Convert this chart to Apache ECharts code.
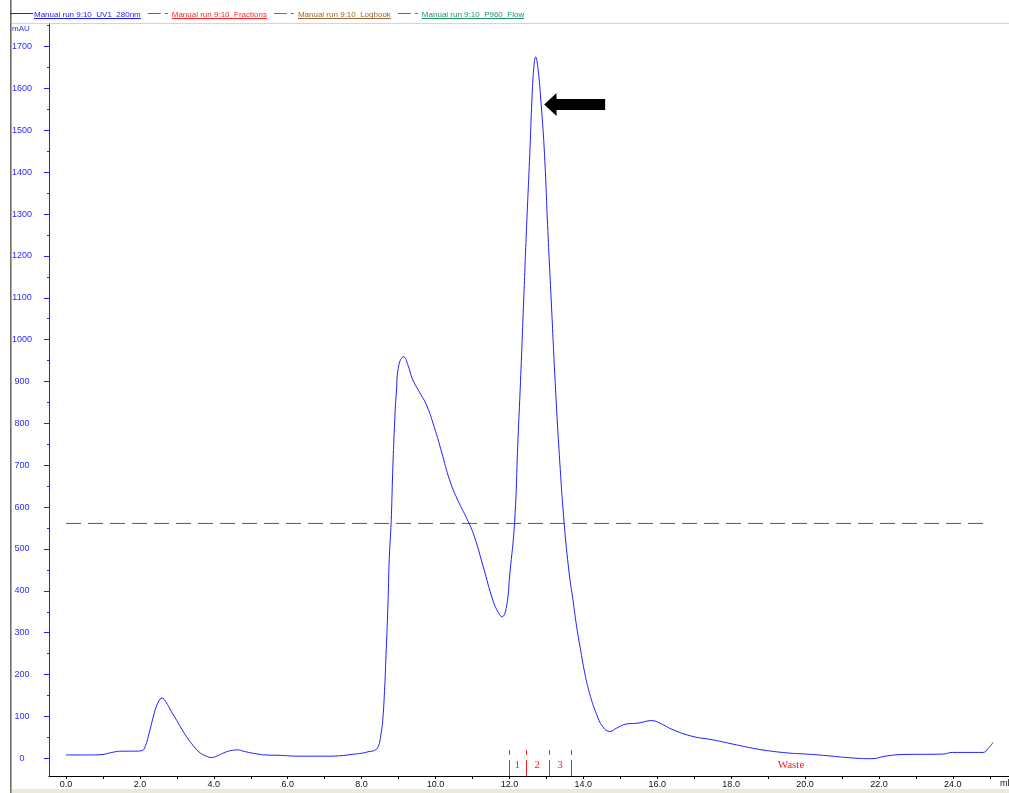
<!DOCTYPE html>
<html>
<head>
<meta charset="utf-8">
<title>Manual run 9:10</title>
<script src="https://cdn.jsdelivr.net/npm/echarts@6/dist/echarts.min.js"></script>
<style>
  html, body { margin: 0; padding: 0; background: #ffffff; }
  #chart { width: 1009px; height: 793px; }
</style>
</head>
<body>
<div id="chart"></div>
<script>
// UV 280 nm trace: elution volume (ml) and absorbance (mAU)
const uvVolume = [
  0.0, 0.5, 1.0, 1.1, 1.3, 1.5, 1.8, 2.05, 2.15, 2.25, 2.35, 2.45, 2.55, 2.6, 2.7, 2.85,
  3.0, 3.2, 3.4, 3.6, 3.8, 3.95, 4.1, 4.3, 4.5, 4.65, 4.8, 5.0, 5.2, 5.4, 5.8, 6.3,
  7.0, 7.4, 7.8, 8.0, 8.2, 8.35, 8.45, 8.52, 8.57, 8.62, 8.66, 8.71, 8.75, 8.80, 8.84,
  8.89, 8.94, 9.01, 9.14, 9.25, 9.38, 9.55, 9.75, 9.97, 10.17, 10.38, 10.6, 10.85, 11.05,
  11.3, 11.55, 11.7, 11.8, 11.92, 12.01, 12.14, 12.23, 12.3, 12.38, 12.46, 12.55,
  12.61, 12.66, 12.71, 12.77, 12.86, 12.95, 13.04, 13.14, 13.24, 13.34, 13.48, 13.62,
  13.73, 13.82, 13.92, 14.04, 14.17, 14.35, 14.53, 14.72, 14.9, 15.17, 15.48, 15.85,
  16.07, 16.43, 16.97, 17.51, 18.15, 18.78, 19.5, 20.05, 20.5, 21.25, 21.8, 22.17,
  22.62, 23.72, 23.99, 24.82, 24.95, 25.09
];
const uvAbsorbance = [
  8, 8, 9, 11, 15, 17, 17, 18, 30, 60, 95, 125, 142, 144, 135, 112,
  90, 60, 35, 15, 5, 2, 6, 14, 19, 20, 17, 13, 10, 8, 7, 5,
  5, 6, 10, 12, 16, 19, 28, 55, 90, 160, 245, 360, 480, 565, 680,
  795, 875, 940, 959, 940, 905, 877, 845, 790, 730, 665, 617, 572, 530,
  455, 378, 348, 338, 362, 440, 563, 758, 900, 1080, 1260, 1442,
  1575, 1650, 1675, 1650, 1561, 1442, 1260, 1078, 895, 740, 563, 440,
  372, 314, 262, 203, 155, 107, 75, 64, 72, 82, 84, 90,
  84, 68, 52, 44, 32, 21, 13, 10, 7, 1, -1, 5,
  9, 10, 14, 14, 23, 38
];

// P960 flow trace (drawn on the same scale)
const flowVolume = [0.0, 25.0];
const flowLevel = [561, 561];

// Fraction marks (ml) and the names of the collected fractions
const fractionMarks = [11.98, 12.45, 13.06, 13.68];
const fractionNames = ['1', '2', '3', 'Waste'];
const fractionEnd = 25.56;
const fractionTop = 20;
const fractionLabelLevel = -16;

// Peak annotation (arrow tip)
const arrowTip = [12.94, 1562];

// Axis ranges and ticks
const xMin = -0.46, xMax = 25.52;
const yMin = -42.3, yMax = 1754;
const xLabelValues = [0, 2, 4, 6, 8, 10, 12, 14, 16, 18, 20, 22, 24];
const xTickValues = [0, 1, 2, 3, 4, 5, 6, 7, 8, 9, 10, 11, 12, 13, 14, 15, 16, 17, 18, 19, 20, 21, 22, 23, 24, 25];
const yLabelValues = [0, 100, 200, 300, 400, 500, 600, 700, 800, 900, 1000, 1100, 1200, 1300, 1400, 1500, 1600, 1700];
const yMinorValues = [50, 150, 250, 350, 450, 550, 650, 750, 850, 950, 1050, 1150, 1250, 1350, 1450, 1550, 1650, 1750];

// Legend entries
const legendNames = ['Manual run 9:10_UV1_280nm', 'Manual run 9:10_Fractions', 'Manual run 9:10_Logbook', 'Manual run 9:10_P960_Flow'];
const legendColors = ['#1a1aff', '#ff2626', '#996633', '#1f9460'];

const BLUE = '#1f1fff';
const RED = '#ff2020';
const GREEN = '#11804f';
const SANS = '"Liberation Sans", Arial, sans-serif';
const SERIF = '"Liberation Serif", "Times New Roman", serif';

const uvData = uvVolume.map((v, i) => [v, uvAbsorbance[i]]);
const flowData = flowVolume.map((v, i) => [v, flowLevel[i]]);
const fractionLabelData = fractionNames.map((name, i) => {
  const start = fractionMarks[i];
  const end = i + 1 < fractionMarks.length ? fractionMarks[i + 1] : fractionEnd;
  return [(start + end) / 2, fractionLabelLevel, name];
});

// Legend row built from text measurements
const measureCtx = document.createElement('canvas').getContext('2d');
const legendFont = '8px ' + SANS;
measureCtx.font = legendFont;
const legendElements = [];
let lx = 10;
const ly = 13.5;
legendNames.forEach((name, i) => {
  const color = legendColors[i];
  if (i === 0) {
    legendElements.push({ type: 'rect', shape: { x: lx, y: ly - 0.5, width: 23, height: 1 }, style: { fill: color }, silent: true });
    lx += 24;
  } else {
    legendElements.push({ type: 'rect', shape: { x: lx + 4, y: ly - 0.5, width: 13, height: 1 }, style: { fill: color }, silent: true });
    legendElements.push({ type: 'rect', shape: { x: lx + 21, y: ly - 0.5, width: 3, height: 1 }, style: { fill: color }, silent: true });
    lx += 28;
  }
  const w = measureCtx.measureText(name).width;
  legendElements.push({ type: 'text', style: { x: lx, y: 14.5, text: name, fill: color, font: legendFont, verticalAlign: 'middle', align: 'left' }, silent: true });
  legendElements.push({ type: 'rect', shape: { x: lx, y: 18, width: w, height: 1 }, style: { fill: color }, silent: true });
  lx += w + 3;
});

const chart = echarts.init(document.getElementById('chart'), null, { renderer: 'canvas' });

chart.setOption({
  animation: false,
  backgroundColor: '#ffffff',
  grid: { left: 49, right: 0, top: 24, bottom: 17, containLabel: false },
  xAxis: {
    type: 'value', min: xMin, max: xMax,
    axisLine: { show: true, onZero: false, lineStyle: { color: '#000000', width: 1 } },
    axisTick: { show: true, length: 3, customValues: xTickValues, lineStyle: { color: '#000000' } },
    axisLabel: {
      show: true, customValues: xLabelValues, margin: 4, color: '#111111',
      fontFamily: SANS, fontSize: 9,
      formatter: v => v.toFixed(1)
    },
    splitLine: { show: false }
  },
  yAxis: [
    {
      type: 'value', min: yMin, max: yMax,
      axisLine: { show: true, onZero: false, lineStyle: { color: BLUE, width: 1 } },
      axisTick: { show: true, length: 5, customValues: yLabelValues, lineStyle: { color: BLUE } },
      axisLabel: {
        show: true, customValues: yLabelValues, margin: 27, align: 'center',
        color: '#2a2aff', fontFamily: SANS, fontSize: 9,
        formatter: v => String(v)
      },
      splitLine: { show: false }
    },
    {
      type: 'value', min: yMin, max: yMax, position: 'left',
      axisLine: { show: false, onZero: false },
      axisTick: { show: true, length: 2, customValues: yMinorValues, lineStyle: { color: BLUE } },
      axisLabel: { show: false },
      splitLine: { show: false }
    }
  ],
  graphic: [
    { type: 'rect', shape: { x: 10, y: 0, width: 1, height: 793 }, style: { fill: '#716f64' }, silent: true },
    { type: 'rect', shape: { x: 11, y: 0, width: 1, height: 793 }, style: { fill: '#aca899' }, silent: true },
    { type: 'rect', shape: { x: 12, y: 23, width: 997, height: 1 }, style: { fill: '#d4d4d4' }, silent: true },
    { type: 'rect', shape: { x: 12, y: 789, width: 997, height: 4 }, style: { fill: '#ece9d8' }, silent: true },
    { type: 'text', style: { x: 12, y: 28.5, text: 'mAU', fill: '#2a2aff', font: '8px ' + SANS, verticalAlign: 'middle' }, silent: true },
    { type: 'text', style: { x: 1000, y: 784, text: 'ml', fill: '#111111', font: '9px ' + SANS, verticalAlign: 'middle' }, silent: true },
    ...legendElements
  ],
  series: [
    {
      name: legendNames[0],
      type: 'line',
      data: uvData,
      smooth: 0.45,
      symbol: 'none',
      lineStyle: { color: BLUE, width: 1 },
      silent: true,
      z: 5,
      markPoint: {
        silent: true,
        symbol: 'path://M0,11.5 L12.4,0 L12.4,6 L61,6 L61,17 L12.4,17 L12.4,23 Z',
        symbolSize: [61, 23],
        symbolKeepAspect: false,
        symbolOffset: ['50%', 0],
        itemStyle: { color: '#000000' },
        label: { show: false },
        data: [{ coord: arrowTip }]
      }
    },
    {
      name: legendNames[1],
      type: 'custom',
      data: fractionMarks.map(v => [v]),
      silent: true,
      z: 4,
      renderItem: (params, api) => {
        const x = api.value(0);
        const top = api.coord([x, fractionTop]);
        const bottom = api.coord([x, yMin]);
        const px = Math.round(top[0]);
        const y0 = Math.round(top[1]);
        const y1 = Math.round(bottom[1]);
        return {
          type: 'group',
          children: [
            { type: 'rect', shape: { x: px, y: y0, width: 1, height: 5 }, style: { fill: RED } },
            { type: 'rect', shape: { x: px, y: y0 + 10, width: 1, height: y1 - y0 - 10 }, style: { fill: RED } }
          ]
        };
      }
    },
    {
      name: legendNames[1] + ' labels',
      type: 'custom',
      data: fractionLabelData,
      silent: true,
      z: 4,
      renderItem: (params, api) => {
        const p = api.coord([api.value(0), api.value(1)]);
        return {
          type: 'text',
          style: {
            x: p[0], y: p[1], text: fractionLabelData[params.dataIndex][2],
            fill: RED, font: '11px ' + SERIF, align: 'center', verticalAlign: 'middle'
          }
        };
      }
    },
    {
      name: legendNames[3],
      type: 'line',
      data: flowData,
      symbol: 'none',
      silent: true,
      z: 3,
      lineStyle: { color: GREEN, width: 1, type: [15, 7] }
    }
  ]
});
</script>
</body>
</html>
